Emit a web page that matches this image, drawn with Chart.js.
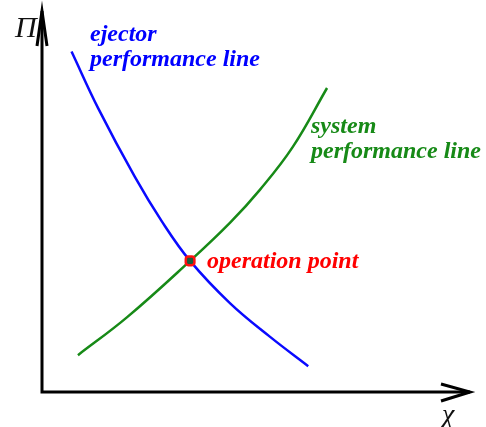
<!DOCTYPE html>
<html>
<head>
<meta charset="utf-8">
<script src="https://cdn.jsdelivr.net/npm/chart.js@4.4.0/dist/chart.umd.min.js"></script>
<style>
  html, body { margin: 0; padding: 0; background: #fff; }
  #wrap { width: 486px; height: 427px; }
</style>
</head>
<body>
<div id="wrap"><canvas id="chart" width="486" height="427"></canvas></div>
<script>
// 曲线数据（横轴 χ，纵轴 Π，单位任意 0..10）
const ejectorX = [0.69, 1.32, 2.17, 2.80, 3.46, 4.39, 5.33, 6.22];
const ejectorY = [8.96, 7.45, 5.66, 4.49, 3.45, 2.34, 1.45, 0.68];
const systemX = [0.84, 1.99, 3.46, 4.39, 5.09, 5.86, 6.66];
const systemY = [0.97, 1.97, 3.45, 4.45, 5.32, 6.45, 8.00];
const opX = [3.46];
const opY = [3.45];

const toPoints = (xs, ys) => xs.map((x, i) => ({ x: x, y: ys[i] }));

// 坐标轴箭头和文字
const decorPlugin = {
    id: 'decor',
    afterDatasetsDraw(chart) {
        const ctx = chart.ctx;
        const a = chart.chartArea;
        const x0 = a.left, y0 = a.bottom;
        ctx.save();
        ctx.strokeStyle = '#000';
        ctx.lineWidth = 3;
        ctx.lineCap = 'butt';
        // 坐标轴
        ctx.beginPath();
        ctx.moveTo(x0, a.top - 1);
        ctx.lineTo(x0, y0);
        ctx.lineTo(a.right, y0);
        ctx.stroke();
        // 箭头
        ctx.lineJoin = 'miter';
        ctx.beginPath();
        ctx.moveTo(x0 - 5, a.top + 34);
        ctx.lineTo(x0, a.top - 1);
        ctx.lineTo(x0 + 5, a.top + 34);
        ctx.stroke();
        ctx.beginPath();
        ctx.moveTo(a.right - 29, y0 - 8);
        ctx.lineTo(a.right, y0);
        ctx.lineTo(a.right - 29, y0 + 9);
        ctx.stroke();

        // 轴标签
        ctx.fillStyle = '#111';
        ctx.font = 'italic 30px "Liberation Serif", serif';
        ctx.textBaseline = 'alphabetic';
        ctx.fillText('Π', 15, 37);
        ctx.font = 'italic 28px "Liberation Serif", serif';
        ctx.fillText('χ', 442, 423);

        // 曲线说明
        ctx.font = 'italic bold 24px "Liberation Serif", serif';
        ctx.fillStyle = '#0000ff';
        ctx.fillText('ejector', 90, 41);
        ctx.fillText('performance line', 90, 66);
        ctx.fillStyle = '#178a17';
        ctx.fillText('system', 311, 133);
        ctx.fillText('performance line', 311, 158);
        ctx.fillStyle = '#ff0000';
        ctx.fillText('operation point', 207, 268);
        ctx.restore();
    }
};

new Chart(document.getElementById('chart'), {
    type: 'scatter',
    data: {
        datasets: [
            {
                label: 'operation point',
                data: toPoints(opX, opY),
                pointStyle: 'rectRounded',
                pointRadius: 5,
                pointBorderWidth: 2.5,
                pointBorderColor: '#ff1010',
                pointBackgroundColor: '#1d5a3a',
                showLine: false,
                order: 0
            },
            {
                label: 'ejector performance line',
                data: toPoints(ejectorX, ejectorY),
                borderColor: '#0a0aff',
                borderWidth: 2.5,
                pointRadius: 0,
                showLine: true,
                tension: 0.4,
                order: 1
            },
            {
                label: 'system performance line',
                data: toPoints(systemX, systemY),
                borderColor: '#178a17',
                borderWidth: 2.5,
                pointRadius: 0,
                showLine: true,
                tension: 0.4,
                order: 2
            }
        ]
    },
    options: {
        responsive: false,
        animation: false,
        layout: {
            padding: { left: 42, right: 16, top: 12, bottom: 35 }
        },
        plugins: {
            legend: { display: false },
            tooltip: { enabled: false }
        },
        scales: {
            x: { type: 'linear', min: 0, max: 10, display: false },
            y: { type: 'linear', min: 0, max: 10, display: false }
        }
    },
    plugins: [decorPlugin]
});
</script>
</body>
</html>
